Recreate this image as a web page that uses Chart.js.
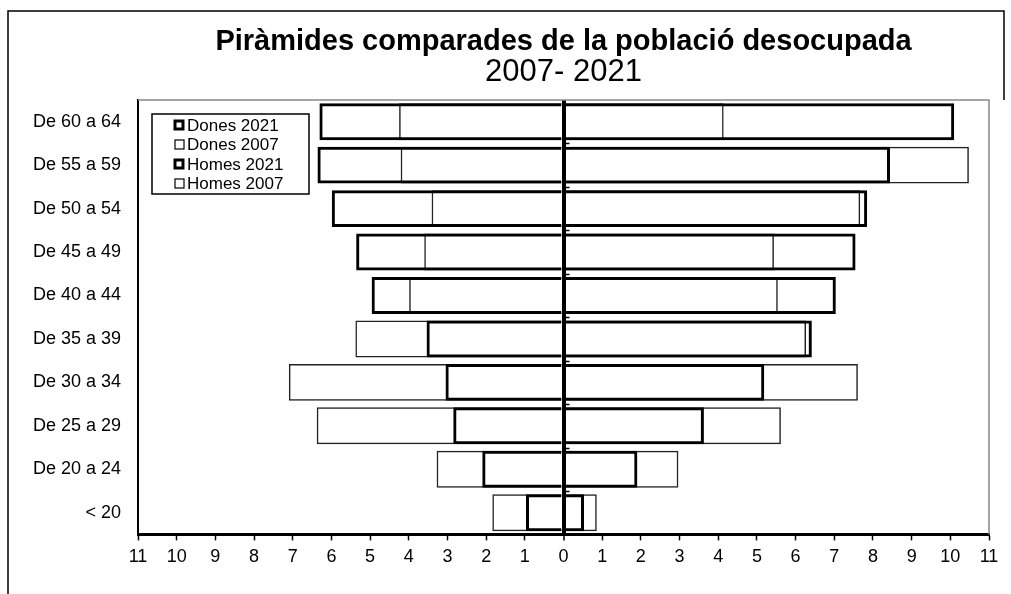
<!DOCTYPE html>
<html>
<head>
<meta charset="utf-8">
<script src="https://cdn.jsdelivr.net/npm/chart.js@4.4.0/dist/chart.umd.min.js"></script>
<style>
  html, body { margin: 0; padding: 0; background: #fff; }
  #wrap { width: 1011px; height: 594px; position: relative; }
</style>
</head>
<body>
<div id="wrap"><canvas id="chart" width="1011" height="594"></canvas></div>
<script>
// age groups, top to bottom
const ageGroups = ['De 60 a 64', 'De 55 a 59', 'De 50 a 54', 'De 45 a 49', 'De 40 a 44',
                   'De 35 a 39', 'De 30 a 34', 'De 25 a 29', 'De 20 a 24', '< 20'];

// percentages (men on the left, women on the right)
const homes2021 = [6.31, 6.36, 5.99, 5.36, 4.96, 3.54, 3.05, 2.85, 2.10, 0.97];
const homes2007 = [4.25, 4.21, 3.41, 3.60, 3.99, 5.38, 7.10, 6.38, 3.28, 1.84];
const dones2021 = [10.10, 8.44, 7.85, 7.55, 7.04, 6.42, 5.19, 3.63, 1.91, 0.53];
const dones2007 = [4.14, 10.48, 7.67, 5.44, 5.54, 6.27, 7.61, 5.62, 2.97, 0.86];

const axisMax = 11;
const titleText = 'Piràmides comparades de la població desocupada';
const subtitleText = '2007- 2021';

const FONT = 'Arial, "Liberation Sans", sans-serif';

function barSet(label, data, thick) {
    return {
        label: label,
        data: data,
        grouped: false,
        backgroundColor: 'rgba(0,0,0,0)',
        borderColor: thick ? '#000' : '#222',
        borderWidth: thick ? 3 : 1.5,
        borderSkipped: 'start',
        categoryPercentage: 1,
        barPercentage: 0.85,
        thick: thick
    };
}

// frame, zero-line ticks and the boxed legend
const extras = {
    id: 'extras',
    afterDraw(chart) {
        const ctx = chart.ctx;
        const a = chart.chartArea;
        const x = chart.scales.x, y = chart.scales.y;
        ctx.save();

        // outer frame of the whole picture
        ctx.strokeStyle = '#000';
        ctx.lineWidth = 1.5;
        ctx.beginPath();
        ctx.moveTo(8, 600);
        ctx.lineTo(8, 11);
        ctx.lineTo(1004, 11);
        ctx.lineTo(1004, 100);
        ctx.stroke();

        // grey top and right sides of the plot area
        ctx.strokeStyle = '#888';
        ctx.lineWidth = 1.5;
        ctx.beginPath();
        ctx.moveTo(a.left, a.top);
        ctx.lineTo(a.right, a.top);
        ctx.lineTo(a.right, a.bottom);
        ctx.stroke();

        // small category ticks on the zero line
        const x0 = x.getPixelForValue(0);
        const half = (y.getPixelForValue(1) - y.getPixelForValue(0)) / 2;
        ctx.strokeStyle = '#000';
        ctx.lineWidth = 1.5;
        ctx.beginPath();
        for (let i = 1; i < ageGroups.length; i++) {
            const yy = Math.round(y.getPixelForValue(i) - half) + 0.5;
            ctx.moveTo(x0, yy);
            ctx.lineTo(x0 + 6, yy);
        }
        ctx.stroke();

        // legend box
        const lx = a.left + 14, ly = a.top + 14, lw = 157, lh = 80;
        ctx.fillStyle = '#fff';
        ctx.fillRect(lx, ly, lw, lh);
        ctx.strokeStyle = '#000';
        ctx.lineWidth = 1.5;
        ctx.strokeRect(lx, ly, lw, lh);
        const order = [2, 3, 0, 1];
        ctx.font = '17px ' + FONT;
        ctx.textBaseline = 'middle';
        ctx.textAlign = 'left';
        order.forEach((di, k) => {
            const ds = chart.data.datasets[di];
            const cy = ly + 11 + k * 19.5;
            ctx.lineWidth = ds.thick ? 3 : 1.2;
            ctx.strokeStyle = '#000';
            const s = ds.thick ? 8 : 9;
            ctx.strokeRect(lx + 23, cy - s / 2, s, s);
            ctx.fillStyle = '#000';
            ctx.fillText(ds.label, lx + 35, cy + 1);
        });
        ctx.restore();
    }
};

new Chart(document.getElementById('chart'), {
    type: 'bar',
    data: {
        labels: ageGroups,
        datasets: [
            barSet('Homes 2021', homes2021.map(v => -v), true),
            barSet('Homes 2007', homes2007.map(v => -v), false),
            barSet('Dones 2021', dones2021, true),
            barSet('Dones 2007', dones2007, false)
        ]
    },
    options: {
        indexAxis: 'y',
        responsive: false,
        animation: false,
        devicePixelRatio: 1,
        layout: { padding: { left: 0, right: 22, top: 27, bottom: 20 } },
        plugins: {
            legend: { display: false },
            tooltip: { enabled: false },
            title: {
                display: true,
                fullSize: false,
                text: titleText,
                color: '#000',
                font: { family: FONT, size: 29, weight: 'bold', lineHeight: 1 },
                padding: { top: 0, bottom: 1 }
            },
            subtitle: {
                display: true,
                fullSize: false,
                text: subtitleText,
                color: '#000',
                font: { family: FONT, size: 31, weight: 'normal', lineHeight: 1 },
                padding: { top: 0, bottom: 12 }
            }
        },
        scales: {
            x: {
                type: 'linear',
                min: -axisMax,
                max: axisMax,
                ticks: {
                    stepSize: 1,
                    color: '#000',
                    font: { family: FONT, size: 18 },
                    padding: 6,
                    maxRotation: 0,
                    callback: v => Math.abs(v)
                },
                grid: {
                    color: c => (c.tick && c.tick.value === 0) ? '#000' : 'rgba(0,0,0,0)',
                    lineWidth: c => (c.tick && c.tick.value === 0) ? 4 : 1,
                    tickColor: '#000',
                    tickLength: 6,
                    tickWidth: 1.5
                },
                border: { display: true, color: '#000', width: 3 }
            },
            y: {
                type: 'category',
                afterFit: s => { s.width = 138; },
                ticks: {
                    color: '#000',
                    font: { family: FONT, size: 18 },
                    padding: 17
                },
                grid: { color: 'rgba(0,0,0,0)', drawTicks: false },
                border: { display: true, color: '#000', width: 2 }
            }
        }
    },
    plugins: [extras]
});
</script>
</body>
</html>
